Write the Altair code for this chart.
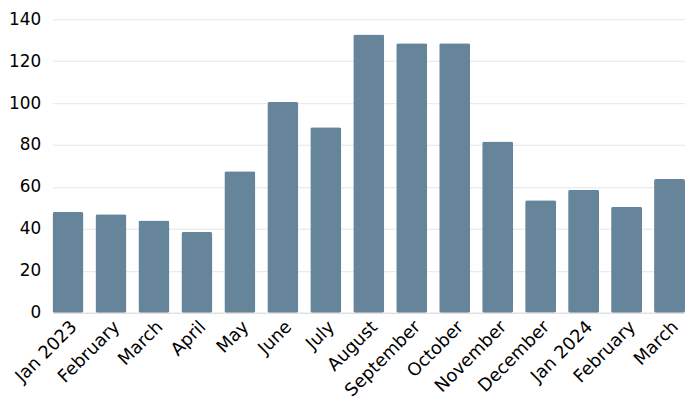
import altair as alt
import pandas as pd

months = ["Jan 2023", "February", "March", "April", "May", "June", "July",
          "August", "September", "October", "November", "December",
          "Jan 2024", "February ", "March "]
values = [48, 47, 44, 38.5, 67.5, 100.5, 88.5, 132.7, 128.5, 128.5, 81.7, 53.7, 58.7, 50.5, 63.8]

df = pd.DataFrame({"month": months, "value": values})

FONT = "DejaVu Sans"

chart = alt.Chart(df).mark_bar(color="#66849a", cornerRadius=2).encode(
    x=alt.X("month:N", sort=months, title=None,
            scale=alt.Scale(paddingInner=0.28, paddingOuter=0),
            axis=alt.Axis(labelAngle=-45, labelFontSize=18, labelColor="#000",
                          labelFont=FONT, ticks=False, domainColor="#dddddd",
                          labelPadding=5)),
    y=alt.Y("value:Q", title=None,
            scale=alt.Scale(domain=[0, 140]),
            axis=alt.Axis(values=[0, 20, 40, 60, 80, 100, 120, 140], labelFontSize=17,
                          labelColor="#000", labelFont=FONT, ticks=False, domain=False,
                          gridColor="#e6e6e6", labelPadding=12)),
).properties(
    width=685, height=395, padding=0,
    autosize=alt.AutoSizeParams(type="fit", contains="padding"),
).configure_view(stroke=None)

chart.save("out.html", embed_options={"renderer": "svg", "actions": False})
